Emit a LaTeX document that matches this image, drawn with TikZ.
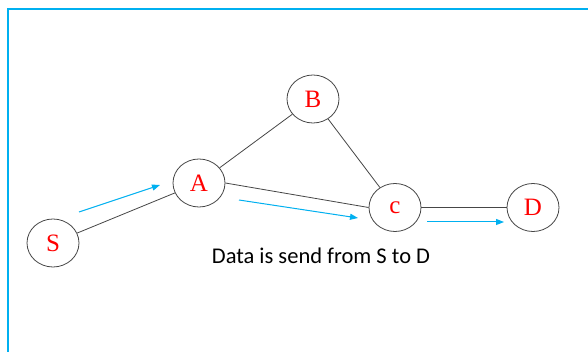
\documentclass[tikz,border=0pt]{standalone}
\usepackage{fontspec}
\setmainfont{Liberation Serif}
\newfontfamily\calib{Carlito}
\usetikzlibrary{shapes.geometric,arrows.meta}
\definecolor{frameblue}{RGB}{0,176,240}
\definecolor{edgegray}{RGB}{70,70,70}
\tikzset{
  netnode/.style={ellipse, draw=edgegray, line width=0.8pt, minimum width=52pt, minimum height=48pt, inner sep=0pt, text=red, font=\fontsize{25}{25}\selectfont},
  link/.style={draw=edgegray, line width=0.8pt},
  flow/.style={draw=frameblue, line width=1pt, -{Triangle[length=8pt,width=6pt]}},
}
\begin{document}
\begin{tikzpicture}[x=1pt,y=-1pt]
\useasboundingbox (0,0) rectangle (588,352);
\fill[white] (0,0) rectangle (588,352);
\begin{scope}
\clip (0,0) rectangle (588,352);
\draw[frameblue, line width=2pt] (8,9) rectangle (600,370);
\end{scope}
\node[netnode] (S) at (53,243) {S};
\node[netnode] (A) at (199,183) {A};
\node[netnode] (B) at (313,99) {B};
\node[netnode] (c) at (395,207.5) {c};
\node[netnode] (D) at (533,207.5) {D};
\draw[link] (S) -- (A);
\draw[link] (A) -- (B);
\draw[link] (A.east) -- (c.west);
\draw[link] (B) -- (c);
\draw[link, line width=1pt] (c) -- (D);
\coordinate (f1s) at (79,212);
\coordinate (f1e) at (160,185);
\coordinate (f2s) at (239,200);
\coordinate (f2e) at (358,218);
\coordinate (f3s) at (427,222);
\coordinate (f3e) at (504,222);
\draw[flow] (f1s) -- (f1e);
\draw[flow] (f2s) -- (f2e);
\draw[flow] (f3s) -- (f3e);
\node[font=\calib\fontsize{22.5}{22.5}\selectfont, anchor=base] (cap) at (321,263) {Data is send from S to D};
\end{tikzpicture}
\end{document}
